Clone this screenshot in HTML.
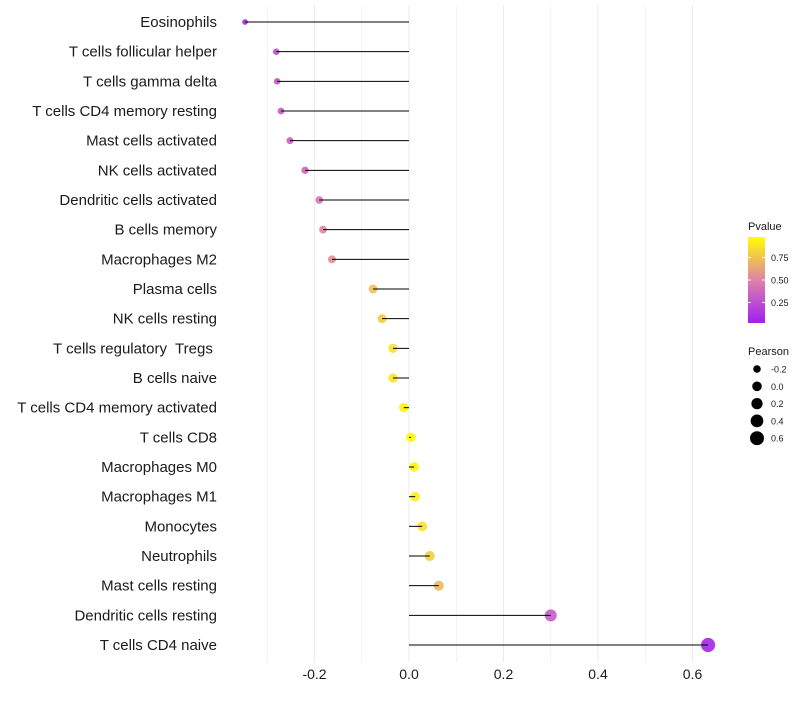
<!DOCTYPE html>
<html><head><meta charset="utf-8"><style>
body{margin:0;background:#fff;font-family:"Liberation Sans",sans-serif;}
svg text{font-family:"Liberation Sans",sans-serif;white-space:pre;}
</style></head><body>
<svg id="c" width="800" height="700"></svg>
<script>
const categories=["Eosinophils","T cells follicular helper","T cells gamma delta","T cells CD4 memory resting","Mast cells activated","NK cells activated","Dendritic cells activated","B cells memory","Macrophages M2","Plasma cells","NK cells resting","T cells regulatory  Tregs ","B cells naive","T cells CD4 memory activated","T cells CD8","Macrophages M0","Macrophages M1","Monocytes","Neutrophils","Mast cells resting","Dendritic cells resting","T cells CD4 naive"];
const pearson=[-0.347,-0.281,-0.279,-0.271,-0.252,-0.22,-0.19,-0.182,-0.163,-0.076,-0.057,-0.034,-0.034,-0.011,0.004,0.011,0.013,0.028,0.044,0.063,0.30,0.633];
const pvalue=[0.05,0.25,0.27,0.3,0.32,0.36,0.45,0.5,0.55,0.75,0.8,0.88,0.9,0.95,0.98,0.96,0.93,0.88,0.8,0.72,0.3,0.03];
const xTicks=[-0.2,0,0.2,0.4,0.6];
const xTickLabels=["-0.2","0.0","0.2","0.4","0.6"];
const legendP=[0.75,0.5,0.25];
const legendPLabels=["0.75","0.50","0.25"];
const legendSizes=[-0.2,0,0.2,0.4,0.6];
const legendSizeLabels=["-0.2","0.0","0.2","0.4","0.6"];

const NS="http://www.w3.org/2000/svg";
const svg=document.getElementById('c');
function el(t,a,p){const e=document.createElementNS(NS,t);for(const k in a)e.setAttribute(k,a[k]);(p||svg).appendChild(e);return e;}
const X=v=>409+v*472.5;
const Y=i=>22+i*29.667;
const R=v=>Math.sqrt(Math.max(2.5,23+43*v));
function lerp(a,b,t){return a.map((x,i)=>Math.round(x+(b[i]-x)*t));}
function col(p){const s=[[160,32,240],[222,130,170],[255,255,0]];const c=p<0.5?lerp(s[0],s[1],p/0.5):lerp(s[1],s[2],(p-0.5)/0.5);return `rgb(${c})`;}

for(let v=-0.3;v<=0.651;v+=0.1){
  const g=el('line',{x1:X(v),x2:X(v),y1:5,y2:662,stroke:'#ebebeb','stroke-width':Math.abs(Math.round(v*10))%2===0?1:0.6});
  
  
}
xTicks.forEach((v,i)=>{
  const t=el('text',{x:X(v),y:679,'text-anchor':'middle','font-size':14,fill:'#1a1a1a'});
  t.textContent=xTickLabels[i];
  
  
});
categories.forEach((c,i)=>{
  const y=Y(i);
  const t=el('text',{x:217,y:y+5,'text-anchor':'end','font-size':15,fill:'#1a1a1a'});
  t.textContent=c;
  
  
  const d=el('circle',{cx:X(pearson[i]),cy:y,r:R(pearson[i]),fill:col(pvalue[i]),opacity:0.9});
  
  
  const s=el('line',{x1:X(0),x2:X(pearson[i]),y1:y,y2:y,stroke:'#000','stroke-width':1});
  
  
});
const defs=el('defs',{});
const lg=el('linearGradient',{id:'pg',x1:0,y1:1,x2:0,y2:0},defs);
[0,0.25,0.5,0.75,1].forEach(p=>el('stop',{offset:p,'stop-color':col(p)},lg));
let t=el('text',{x:748,y:230,'font-size':11,fill:'#1a1a1a'});t.textContent='Pvalue';


const bar=el('rect',{x:748,y:237,width:17,height:86,fill:'url(#pg)'});


const PY=p=>325-p*90;
legendP.forEach((p,i)=>{
  el('line',{x1:748,x2:751,y1:PY(p),y2:PY(p),stroke:'#fff'});
  el('line',{x1:762,x2:765,y1:PY(p),y2:PY(p),stroke:'#fff'});
  const l=el('text',{x:771,y:PY(p)+3.5,'font-size':9,fill:'#1a1a1a'});l.textContent=legendPLabels[i];
  
  
});
t=el('text',{x:748,y:355,'font-size':11,fill:'#1a1a1a'});t.textContent='Pearson';


legendSizes.forEach((v,i)=>{
  const y=369+i*17.3;
  const c=el('circle',{cx:757,cy:y,r:R(v),fill:'#000'});
  
  
  const l=el('text',{x:771,y:y+3.5,'font-size':9,fill:'#1a1a1a'});l.textContent=legendSizeLabels[i];
  
  
});
</script>
</body></html>
